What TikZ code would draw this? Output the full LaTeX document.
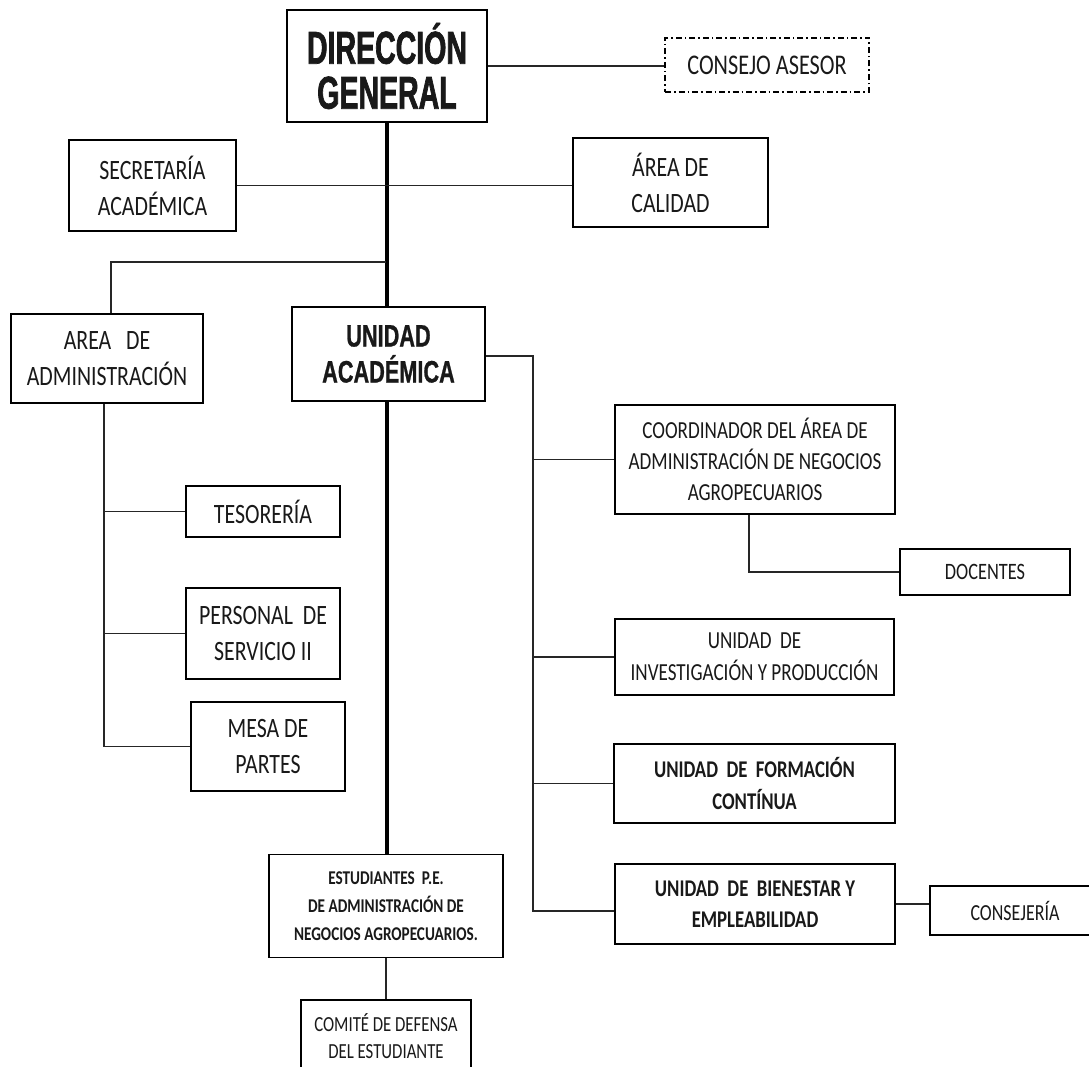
\documentclass[tikz,border=0pt]{standalone}
\usepackage{fontspec}
\setmainfont{Carlito}[FakeStretch=0.78]
\newfontfamily\dgfont{Liberation Sans}[FakeStretch=0.62, FakeBold=1.5]
\newfontfamily\uafont{Liberation Sans}[FakeStretch=0.70, FakeBold=0.8]
\begin{document}
\begin{tikzpicture}[x=1pt,y=-1pt,
  box/.style={draw, line width=1.8pt, rectangle, inner sep=0pt, align=center, text=black!90},
  dashbox/.style={box, dash pattern=on 6pt off 3pt on 1.5pt off 3pt, line width=1.3pt},
  conn/.style={line width=1.8pt, black!85},
  mainline/.style={line width=3.2pt},
  f28/.style={font=\fontsize{28}{36}\selectfont},
  f24/.style={font=\fontsize{24.5}{32}\selectfont},
  f24b/.style={font=\fontsize{24}{31.5}\selectfont\bfseries},
]
\fill[white] (0,0) rectangle (1089,1067);
\useasboundingbox (0,0) rectangle (1089,1067);

% nodes
\node[box, minimum width=200pt, minimum height=112pt, font=\fontsize{46}{45}\selectfont\dgfont\bfseries] (dg) at (387,66) {DIRECCIÓN\\GENERAL};
\node[dashbox, minimum width=204pt, minimum height=54pt, font=\fontsize{28.5}{32}\selectfont] (cons) at (767,65) {CONSEJO ASESOR};
\node[box, f28, minimum width=167pt, minimum height=91pt] (sec) at (152.5,185.5) {SECRETARÍA\\ACADÉMICA};
\node[box, f28, minimum width=195pt, minimum height=89pt] (cal) at (670.5,182.5) {ÁREA DE\\CALIDAD};
\node[box, f28, minimum width=192pt, minimum height=89pt] (adm) at (107,358.5) {AREA\ \ \ DE\\ADMINISTRACIÓN};
\node[box, minimum width=193pt, minimum height=94pt, font=\fontsize{31}{36}\selectfont\uafont\bfseries] (ua) at (388.5,354) {UNIDAD\\ACADÉMICA};
\node[box, f28, minimum width=154pt, minimum height=51pt] (tes) at (263,511.5) {TESORERÍA};
\node[box, f28, minimum width=154pt, minimum height=91pt] (per) at (263,633.5) {PERSONAL\ \ DE\\SERVICIO II};
\node[box, f28, minimum width=154pt, minimum height=89pt] (mesa) at (268,746.5) {MESA DE\\PARTES};
\node[box, minimum width=280pt, minimum height=109pt, font=\fontsize{24.5}{31}\selectfont] (coord) at (755,459.5) {COORDINADOR DEL ÁREA DE\\ADMINISTRACIÓN DE NEGOCIOS\\AGROPECUARIOS};
\node[box, minimum width=170pt, minimum height=46pt, font=\fontsize{23.5}{26}\selectfont] (doc) at (985,572) {DOCENTES};
\node[box, f24, minimum width=279pt, minimum height=76pt] (inv) at (754.5,657) {UNIDAD\ \ DE\\INVESTIGACIÓN Y PRODUCCIÓN};
\node[box, f24b, minimum width=281pt, minimum height=79pt] (form) at (754.5,783.5) {UNIDAD\ \ DE\ \ FORMACIÓN\\CONTÍNUA};
\node[box, f24b, minimum width=280pt, minimum height=80pt] (bien) at (755,904) {UNIDAD\ \ DE\ \ BIENESTAR Y\\EMPLEABILIDAD};
\node[box, minimum width=170pt, minimum height=49pt, font=\fontsize{23}{28}\selectfont] (consj) at (1015,910.5) {CONSEJERÍA};
\node[box, minimum width=234pt, minimum height=103pt, font=\fontsize{19.5}{28}\selectfont\bfseries] (est) at (386,906) {ESTUDIANTES\ \ P.E.\\DE ADMINISTRACIÓN DE\\NEGOCIOS AGROPECUARIOS.};
\node[box, minimum width=170pt, minimum height=73pt, font=\fontsize{21.5}{27}\selectfont] (com) at (386,1036.5) {COMITÉ DE DEFENSA\\DEL ESTUDIANTE};

% helper coordinates
\coordinate (j1) at (386,262);
\coordinate (rb) at (533,911);

% connectors
\draw[conn] (dg.east) -- (dg.east -| cons.west);
\draw[mainline] (dg.south) -- (dg.south |- ua.north);
\draw[mainline] (ua.south -| dg.south) -- (dg.south |- est.north);
\draw[conn] (sec.east) -- (sec.east -| cal.west);
\draw[conn] (j1) -| ([xshift=4pt]adm.north);
\draw[conn] ([xshift=-3pt]adm.south) |- (tes.west);
\draw[conn] ([xshift=-3pt]adm.south) |- (per.west);
\draw[conn] ([xshift=-3pt]adm.south) |- (mesa.west);
\draw[conn] ([yshift=-2pt]ua.east) -| (rb) -- (rb -| bien.west);
\draw[conn] (rb |- coord.west) -- (coord.west);
\draw[conn] (rb |- inv.west) -- (inv.west);
\draw[conn] (rb |- form.west) -- (form.west);
\draw[conn] ([xshift=-6pt]coord.south) |- (doc.west);
\draw[conn] (bien.east) -- (bien.east -| consj.west);
\draw[conn] (est.south) -- (com.north);
\end{tikzpicture}
\end{document}
